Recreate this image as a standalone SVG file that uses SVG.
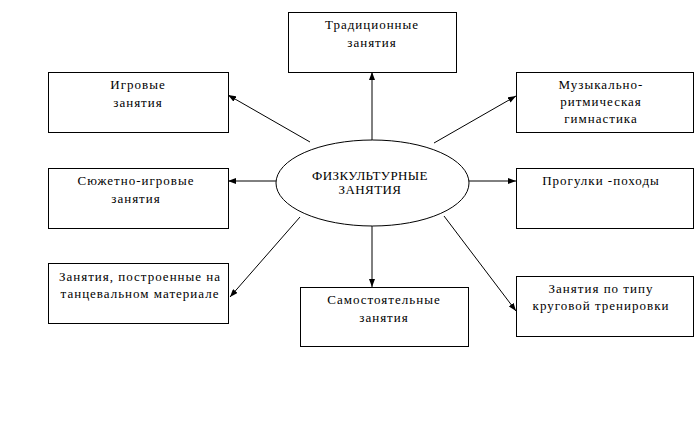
<svg xmlns="http://www.w3.org/2000/svg" width="697" height="421" viewBox="0 0 697 421">
<defs>
<style>
.box{fill:#fff;stroke:#000;stroke-width:1}
.t{font-family:'Liberation Serif','Times New Roman',serif;font-size:13px;letter-spacing:1px;fill:#000;text-anchor:middle}
.e{letter-spacing:0.4px}
.c{stroke:#000;stroke-width:1;fill:none;marker-end:url(#ah)}
</style>
<marker id="ah" viewBox="0 0 8 6" refX="8" refY="3" markerWidth="8" markerHeight="6" markerUnits="userSpaceOnUse" orient="auto">
<path d="M0,0 L8,3 L0,6 Z" fill="#000"/>
</marker>
</defs>
<rect width="697" height="421" fill="#fff"/>
<g id="connectors">
<line class="c" x1="372" y1="140" x2="372" y2="72"/>
<line class="c" x1="310" y1="142" x2="228" y2="95"/>
<line class="c" x1="434" y1="143" x2="516" y2="96"/>
<line class="c" x1="276" y1="181" x2="228" y2="181"/>
<line class="c" x1="469" y1="181" x2="516" y2="181"/>
<line class="c" x1="300" y1="217" x2="230" y2="297"/>
<line class="c" x1="372" y1="226" x2="372" y2="287"/>
<line class="c" x1="444" y1="216" x2="516" y2="311"/>
</g>
<g id="center">
<ellipse cx="372.5" cy="183" rx="96.5" ry="43" fill="#fff" stroke="#000"/>
<text class="t e" x="370" y="180">ФИЗКУЛЬТУРНЫЕ</text>
<text class="t e" x="370" y="193.5">ЗАНЯТИЯ</text>
</g>
<g id="traditional">
<rect class="box" x="288.5" y="12.5" width="168" height="60"/>
<text class="t" x="372" y="29">Традиционные</text>
<text class="t" x="372" y="47">занятия</text>
</g>
<g id="game">
<rect class="box" x="48.5" y="72.5" width="180" height="60"/>
<text class="t" x="138" y="89">Игровые</text>
<text class="t" x="138" y="107">занятия</text>
</g>
<g id="music">
<rect class="box" x="516.5" y="72.5" width="177" height="60"/>
<text class="t" x="601" y="89">Музыкально-</text>
<text class="t" x="601" y="106">ритмическая</text>
<text class="t" x="601" y="123">гимнастика</text>
</g>
<g id="story">
<rect class="box" x="48.5" y="168.5" width="180" height="60"/>
<text class="t" x="136" y="185">Сюжетно-игровые</text>
<text class="t" x="136" y="203">занятия</text>
</g>
<g id="walks">
<rect class="box" x="516.5" y="168.5" width="177" height="60"/>
<text class="t" x="601" y="185">Прогулки -походы</text>
</g>
<g id="dance">
<rect class="box" x="48.5" y="263.5" width="180" height="60"/>
<text class="t" x="140" y="281">Занятия, построенные на</text>
<text class="t" x="140" y="298">танцевальном материале</text>
</g>
<g id="independent">
<rect class="box" x="300.5" y="287.5" width="168" height="59"/>
<text class="t" x="384" y="304">Самостоятельные</text>
<text class="t" x="384" y="322">занятия</text>
</g>
<g id="circuit">
<rect class="box" x="516.5" y="276.5" width="177" height="60"/>
<text class="t" x="601" y="293">Занятия по типу</text>
<text class="t" x="601" y="310">круговой тренировки</text>
</g>
</svg>
